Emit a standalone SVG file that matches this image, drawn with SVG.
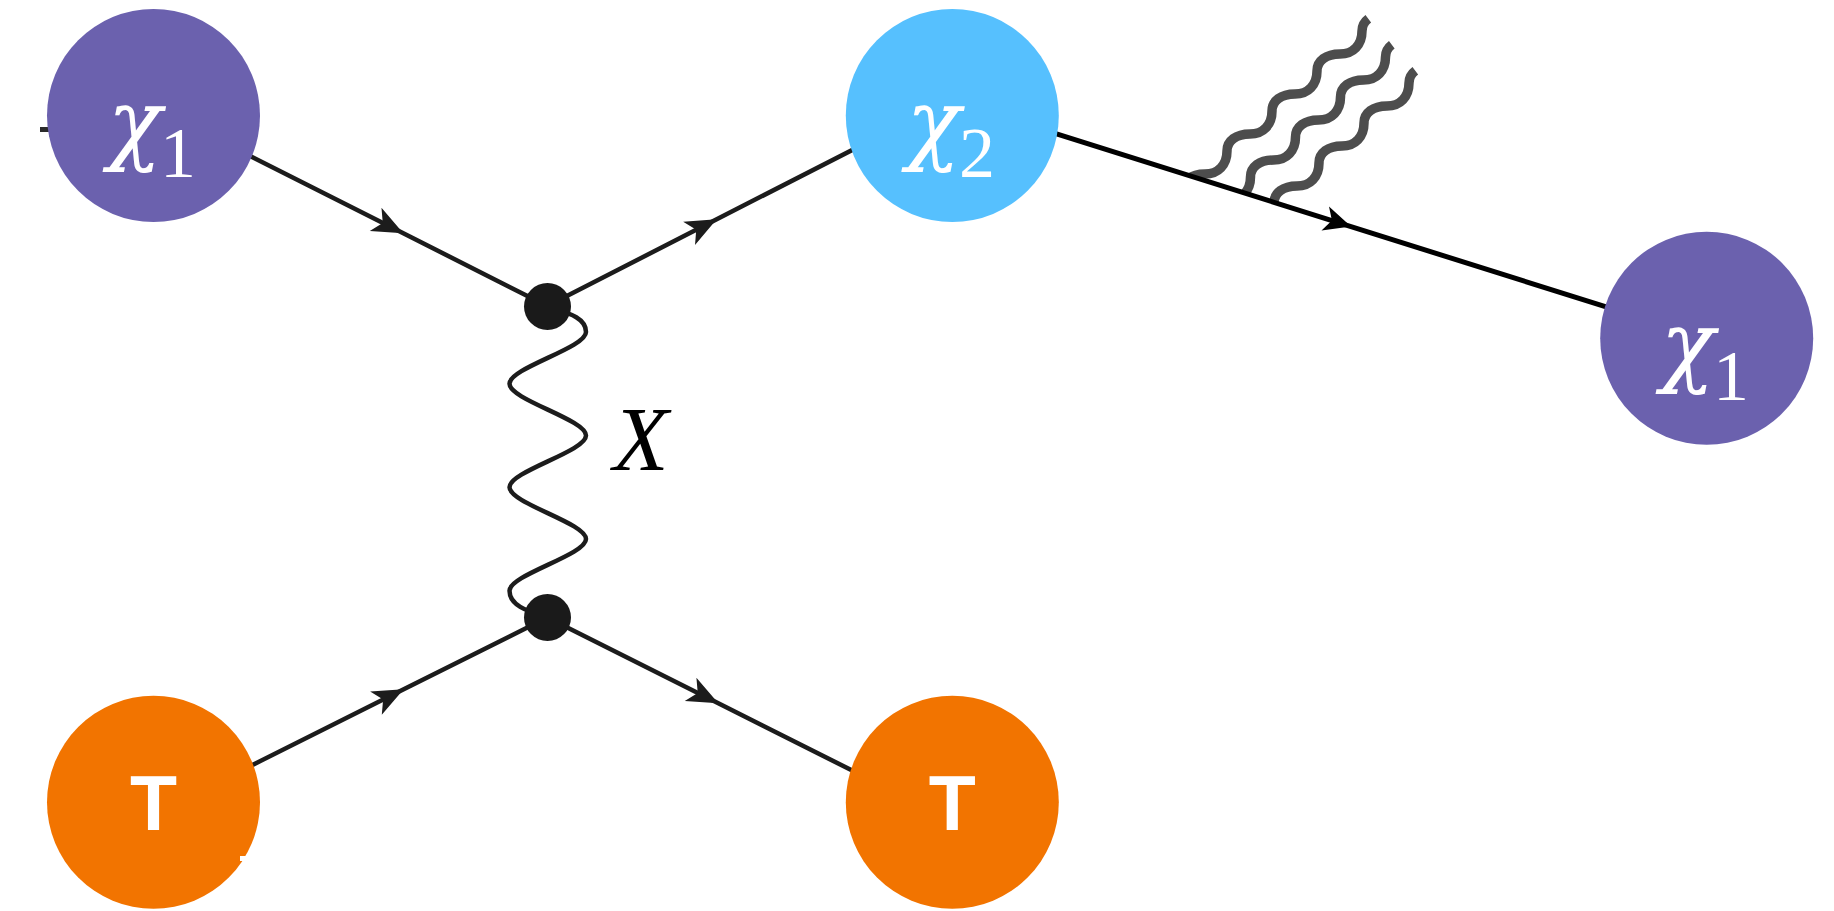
<svg xmlns="http://www.w3.org/2000/svg" width="1834" height="911" viewBox="0 0 1834 911">
<style>
.f{fill:none;stroke:#1c1c1c;stroke-width:4.5px;}
.f2{fill:none;stroke:#000;stroke-width:5px;}
.w{fill:none;stroke:#1c1c1c;stroke-width:4.5px;}
.chi{font-family:"DejaVu Serif","Liberation Serif",serif;font-style:italic;fill:#fff;font-size:89px;}
.sub{font-family:"Liberation Serif","Times New Roman",serif;font-style:normal;fill:#fff;font-size:72px;}
.t{font-family:"Liberation Sans",Arial,sans-serif;font-weight:bold;fill:#fff;font-size:77px;text-anchor:middle;}
.lbl{font-family:"Liberation Serif","Times New Roman",serif;font-style:italic;fill:#000;font-size:91px;}
.vx{fill:#1a1a1a;}
.purple{fill:#6b61ae;}
.blue{fill:#56c0fe;}
.orange{fill:#f27400;}
</style>
<defs>
<marker id="ar" markerUnits="userSpaceOnUse" markerWidth="40" markerHeight="40" viewBox="-35 -20 40 40" refX="0" refY="0" orient="auto"><path d="M0,0 L-31,-13 L-23,0 L-31,13 Z" fill="#1c1c1c"/></marker>
<marker id="ar2" markerUnits="userSpaceOnUse" markerWidth="40" markerHeight="40" viewBox="-35 -20 40 40" refX="0" refY="0" orient="auto"><path d="M0,0 L-27,-12.5 L-20,0 L-27,12.5 Z" fill="#000"/></marker>
<clipPath id="above" clipPathUnits="userSpaceOnUse"><polygon points="1100,147.6 1500,273.5 1500,0 1100,0"/></clipPath>
</defs>
<g id="connectors">
<line x1="40" y1="129.5" x2="70" y2="129.5" stroke="#2a2a2a" stroke-width="5"/>
<path class="f" d="M153.5,107.2 L403.3,233.3 L547.3,306" marker-mid="url(#ar)"/>
<path class="f" d="M547.3,306 L716.7,219.3 L952,98.9" marker-mid="url(#ar)"/>
<path class="f" d="M153.5,814.4 L403.7,689.3 L547.3,617.5" marker-mid="url(#ar)"/>
<path class="f" d="M547.3,617.5 L718.3,703.3 L952,820.6" marker-mid="url(#ar)"/>
<path class="w" d="M547.5,306.5 C563,312 586,316 586,332 C586,348 509.5,367.75 509.5,383.75 C509.5,399.75 586,419.5 586,435.5 C586,451.5 509.5,471.25 509.5,487.25 C509.5,503.25 586,523 586,539 C586,555 509.5,574.75 509.5,590.75 C509.5,606.75 531,612 547.5,617.5"/>
<g id="photons" clip-path="url(#above)" fill="none" stroke="#4d4d4d" stroke-width="9.5" stroke-linecap="butt">
<path d="M1182,191 C1182,180.8 1191.2,174 1205,174 C1218.2,174 1227,164.8 1227,151 C1227,140.8 1236.2,134 1250,134 C1263.2,134 1272,124.8 1272,111 C1272,100.8 1281.2,94 1295,94 C1308.2,94 1317,84.8 1317,71 C1317,60.8 1326.2,54 1340,54 C1353.2,54 1362,44.8 1362,31 C1362,25.9 1364.3,21.65 1368.3,18.7"/>
<path transform="translate(23.5,26)" d="M1182,191 C1182,180.8 1191.2,174 1205,174 C1218.2,174 1227,164.8 1227,151 C1227,140.8 1236.2,134 1250,134 C1263.2,134 1272,124.8 1272,111 C1272,100.8 1281.2,94 1295,94 C1308.2,94 1317,84.8 1317,71 C1317,60.8 1326.2,54 1340,54 C1353.2,54 1362,44.8 1362,31 C1362,25.9 1364.3,21.65 1368.3,18.7"/>
<path transform="translate(47,52)" d="M1182,191 C1182,180.8 1191.2,174 1205,174 C1218.2,174 1227,164.8 1227,151 C1227,140.8 1236.2,134 1250,134 C1263.2,134 1272,124.8 1272,111 C1272,100.8 1281.2,94 1295,94 C1308.2,94 1317,84.8 1317,71 C1317,60.8 1326.2,54 1340,54 C1353.2,54 1362,44.8 1362,31 C1362,25.9 1364.3,21.65 1368.3,18.7"/>
</g>
<path class="f2" d="M1000,116.1 L1351,226.6 L1650,320.7" marker-mid="url(#ar2)"/>
</g>
<g id="vertex-top"><circle class="vx" cx="547.5" cy="306.5" r="23.5"/></g>
<g id="vertex-bottom"><circle class="vx" cx="547.5" cy="617.5" r="23.5"/></g>
<g id="label-X"><text class="lbl" x="613" y="470">X</text></g>
<g id="chi1-in">
<circle class="purple" cx="153.5" cy="115.5" r="106.5"/>
<text class="chi" x="107.7" y="153">χ</text><text class="sub" x="160" y="176.5">1</text>
</g>
<g id="chi2">
<circle class="blue" cx="952.3" cy="115.5" r="106.5"/>
<text class="chi" x="906.4" y="153">χ</text><text class="sub" x="959" y="176.5">2</text>
</g>
<g id="chi1-out">
<circle class="purple" cx="1706.7" cy="338.3" r="106.5"/>
<text class="chi" x="1660.7" y="375">χ</text><text class="sub" x="1713" y="399.5">1</text>
</g>
<g id="T-in">
<circle class="orange" cx="153.5" cy="802.3" r="106.5"/>
<rect x="240" y="856" width="8" height="5" fill="#fff"/>
<text class="t" x="153.5" y="830">T</text>
</g>
<g id="T-out">
<circle class="orange" cx="952.3" cy="802.3" r="106.5"/>
<text class="t" x="952.3" y="830">T</text>
</g>
</svg>
